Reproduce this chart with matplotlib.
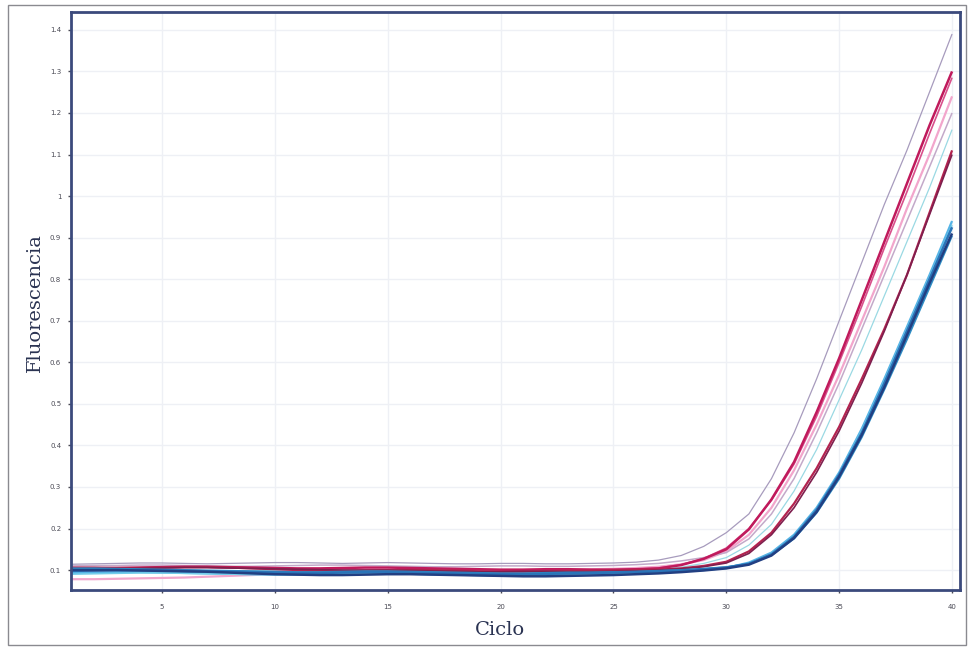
import matplotlib
matplotlib.use("Agg")
import matplotlib.pyplot as plt
from matplotlib.patches import Rectangle

# cycle numbers (x axis)
cycles = list(range(1, 41))

# fluorescence readings per well, cycles 1..40
gray_top = [0.114, 0.115, 0.116, 0.117, 0.117, 0.116, 0.115, 0.116, 0.117, 0.118,
            0.118, 0.117, 0.116, 0.117, 0.118, 0.117, 0.116, 0.115, 0.115, 0.116,
            0.116, 0.115, 0.115, 0.116, 0.117, 0.119, 0.124, 0.135, 0.157, 0.190,
            0.235, 0.320, 0.430, 0.560, 0.700, 0.840, 0.980, 1.110, 1.250, 1.390]
magenta_a = [0.103, 0.104, 0.105, 0.106, 0.107, 0.108, 0.108, 0.107, 0.106, 0.105,
             0.104, 0.104, 0.105, 0.106, 0.106, 0.105, 0.104, 0.103, 0.102, 0.101,
             0.101, 0.102, 0.102, 0.101, 0.101, 0.102, 0.104, 0.112, 0.127, 0.150,
             0.198, 0.270, 0.360, 0.480, 0.610, 0.750, 0.890, 1.030, 1.170, 1.300]
magenta_b = [0.097, 0.098, 0.099, 0.100, 0.100, 0.099, 0.098, 0.097, 0.096, 0.096,
             0.097, 0.098, 0.099, 0.100, 0.100, 0.099, 0.098, 0.097, 0.097, 0.098,
             0.099, 0.100, 0.100, 0.100, 0.101, 0.102, 0.105, 0.113, 0.128, 0.153,
             0.200, 0.268, 0.355, 0.470, 0.600, 0.735, 0.875, 1.010, 1.150, 1.285]
pink = [0.078, 0.078, 0.079, 0.080, 0.081, 0.082, 0.084, 0.086, 0.088, 0.090,
        0.092, 0.093, 0.094, 0.095, 0.096, 0.097, 0.097, 0.098, 0.098, 0.099,
        0.100, 0.100, 0.101, 0.102, 0.103, 0.105, 0.108, 0.114, 0.124, 0.145,
        0.185, 0.250, 0.340, 0.450, 0.570, 0.700, 0.830, 0.970, 1.100, 1.240]
lilac = [0.110, 0.111, 0.111, 0.112, 0.112, 0.111, 0.110, 0.109, 0.109, 0.110,
         0.111, 0.112, 0.112, 0.111, 0.110, 0.109, 0.108, 0.108, 0.109, 0.110,
         0.110, 0.109, 0.109, 0.110, 0.111, 0.113, 0.116, 0.122, 0.130, 0.142,
         0.175, 0.235, 0.320, 0.430, 0.550, 0.680, 0.810, 0.940, 1.070, 1.200]
light_cyan = [0.100, 0.100, 0.101, 0.101, 0.100, 0.099, 0.098, 0.098, 0.099, 0.100,
              0.101, 0.101, 0.100, 0.099, 0.098, 0.097, 0.096, 0.095, 0.094, 0.094,
              0.095, 0.096, 0.097, 0.098, 0.099, 0.100, 0.102, 0.107, 0.116, 0.130,
              0.160, 0.210, 0.290, 0.390, 0.510, 0.630, 0.760, 0.890, 1.020, 1.160]
crimson = [0.106, 0.106, 0.105, 0.105, 0.106, 0.107, 0.107, 0.106, 0.104, 0.102,
           0.100, 0.099, 0.098, 0.098, 0.099, 0.100, 0.100, 0.099, 0.097, 0.096,
           0.096, 0.097, 0.098, 0.098, 0.099, 0.100, 0.101, 0.104, 0.110, 0.120,
           0.145, 0.190, 0.260, 0.345, 0.445, 0.560, 0.680, 0.810, 0.960, 1.110]
dark_crimson = [0.101, 0.102, 0.103, 0.104, 0.105, 0.106, 0.106, 0.105, 0.104, 0.103,
                0.102, 0.101, 0.100, 0.100, 0.100, 0.099, 0.098, 0.097, 0.096, 0.096,
                0.097, 0.097, 0.096, 0.096, 0.097, 0.098, 0.100, 0.103, 0.108, 0.117,
                0.140, 0.185, 0.250, 0.335, 0.435, 0.550, 0.675, 0.810, 0.955, 1.100]
light_blue = [0.093, 0.094, 0.095, 0.095, 0.094, 0.093, 0.092, 0.091, 0.090, 0.089,
              0.089, 0.090, 0.091, 0.092, 0.092, 0.091, 0.090, 0.089, 0.088, 0.087,
              0.087, 0.088, 0.089, 0.090, 0.091, 0.092, 0.094, 0.097, 0.100, 0.105,
              0.118, 0.142, 0.185, 0.250, 0.335, 0.440, 0.560, 0.685, 0.810, 0.940]
cyan = [0.090, 0.091, 0.092, 0.093, 0.093, 0.092, 0.091, 0.090, 0.089, 0.089,
        0.090, 0.091, 0.092, 0.092, 0.091, 0.090, 0.089, 0.088, 0.087, 0.086,
        0.086, 0.087, 0.088, 0.089, 0.090, 0.091, 0.093, 0.096, 0.100, 0.104,
        0.116, 0.140, 0.182, 0.247, 0.332, 0.435, 0.555, 0.680, 0.805, 0.930]
blue = [0.098, 0.099, 0.100, 0.100, 0.099, 0.098, 0.097, 0.096, 0.095, 0.094,
        0.093, 0.093, 0.094, 0.095, 0.095, 0.094, 0.093, 0.092, 0.091, 0.090,
        0.090, 0.091, 0.092, 0.093, 0.094, 0.095, 0.097, 0.099, 0.102, 0.106,
        0.115, 0.138, 0.180, 0.245, 0.330, 0.430, 0.550, 0.675, 0.800, 0.925]
teal_blue = [0.104, 0.104, 0.103, 0.102, 0.101, 0.100, 0.099, 0.098, 0.097, 0.096,
             0.095, 0.095, 0.096, 0.097, 0.097, 0.096, 0.095, 0.094, 0.093, 0.092,
             0.092, 0.093, 0.094, 0.094, 0.095, 0.096, 0.098, 0.100, 0.103, 0.107,
             0.115, 0.136, 0.176, 0.238, 0.320, 0.420, 0.535, 0.655, 0.780, 0.905]
navy = [0.100, 0.100, 0.100, 0.099, 0.098, 0.097, 0.096, 0.094, 0.092, 0.090,
        0.089, 0.088, 0.088, 0.089, 0.090, 0.090, 0.089, 0.088, 0.087, 0.086,
        0.085, 0.085, 0.086, 0.087, 0.088, 0.090, 0.092, 0.095, 0.099, 0.104,
        0.113, 0.135, 0.177, 0.240, 0.325, 0.425, 0.540, 0.665, 0.790, 0.910]

y_ticks = [0.1, 0.2, 0.3, 0.4, 0.5, 0.6, 0.7, 0.8, 0.9, 1, 1.1, 1.2, 1.3, 1.4]
y_tick_labels = ["0.1", "0.2", "0.3", "0.4", "0.5", "0.6", "0.7", "0.8", "0.9",
                 "1", "1.1", "1.2", "1.3", "1.4"]
x_ticks = [5, 10, 15, 20, 25, 30, 35, 40]

# (series, colour, width) in drawing order
wells = [
    (pink, "#f2a6cc", 1.6),
    (gray_top, "#a79bbd", 0.9),
    (lilac, "#c3a9c9", 1.1),
    (light_cyan, "#9ad9e3", 0.9),
    (magenta_b, "#d8508c", 1.2),
    (magenta_a, "#c01a5c", 1.8),
    (crimson, "#b3234f", 1.6),
    (dark_crimson, "#7e1f4e", 1.2),
    (light_blue, "#55b4e6", 1.6),
    (cyan, "#74cdea", 1.1),
    (teal_blue, "#2e8cc4", 1.5),
    (blue, "#2a74b8", 1.8),
    (navy, "#223f82", 1.8),
]

fig = plt.figure(figsize=(9.68, 6.48), dpi=100)
ax = fig.add_axes([0.0733, 0.0895, 0.9184, 0.892])

for series, color, lw in wells:
    ax.plot(cycles, series, color=color, lw=lw, solid_capstyle="butt")

ax.set_xlim(0.97, 40.35)
ax.set_ylim(0.052, 1.443)
ax.set_xticks(x_ticks)
ax.set_yticks(y_ticks)
ax.set_yticklabels(y_tick_labels)
ax.tick_params(axis="both", labelsize=5, colors="#4a4a55", length=2, width=1)
ax.tick_params(axis="x", pad=8)
ax.tick_params(axis="y", pad=5)
ax.grid(True, color="#eef0f5", lw=1)
ax.set_axisbelow(True)
for s in ax.spines.values():
    s.set_color("#3b4a7c")
    s.set_linewidth(2)

fig.text(35 / 968, 1 - 303 / 648, "Fluorescencia", rotation=90, ha="center",
         va="center", family="DejaVu Serif", fontsize=14, color="#2a3352")
fig.text(500 / 968, 1 - 630 / 648, "Ciclo", ha="center", va="center",
         family="DejaVu Serif", fontsize=14, color="#2a3352")

# thin scanned-page frame around the whole figure
fig.patches.append(Rectangle((8 / 968, 3 / 648), 958 / 968, 640 / 648,
                             transform=fig.transFigure, fill=False,
                             edgecolor="#8a8a90", lw=1))

fig.savefig("out.png", dpi=100)
